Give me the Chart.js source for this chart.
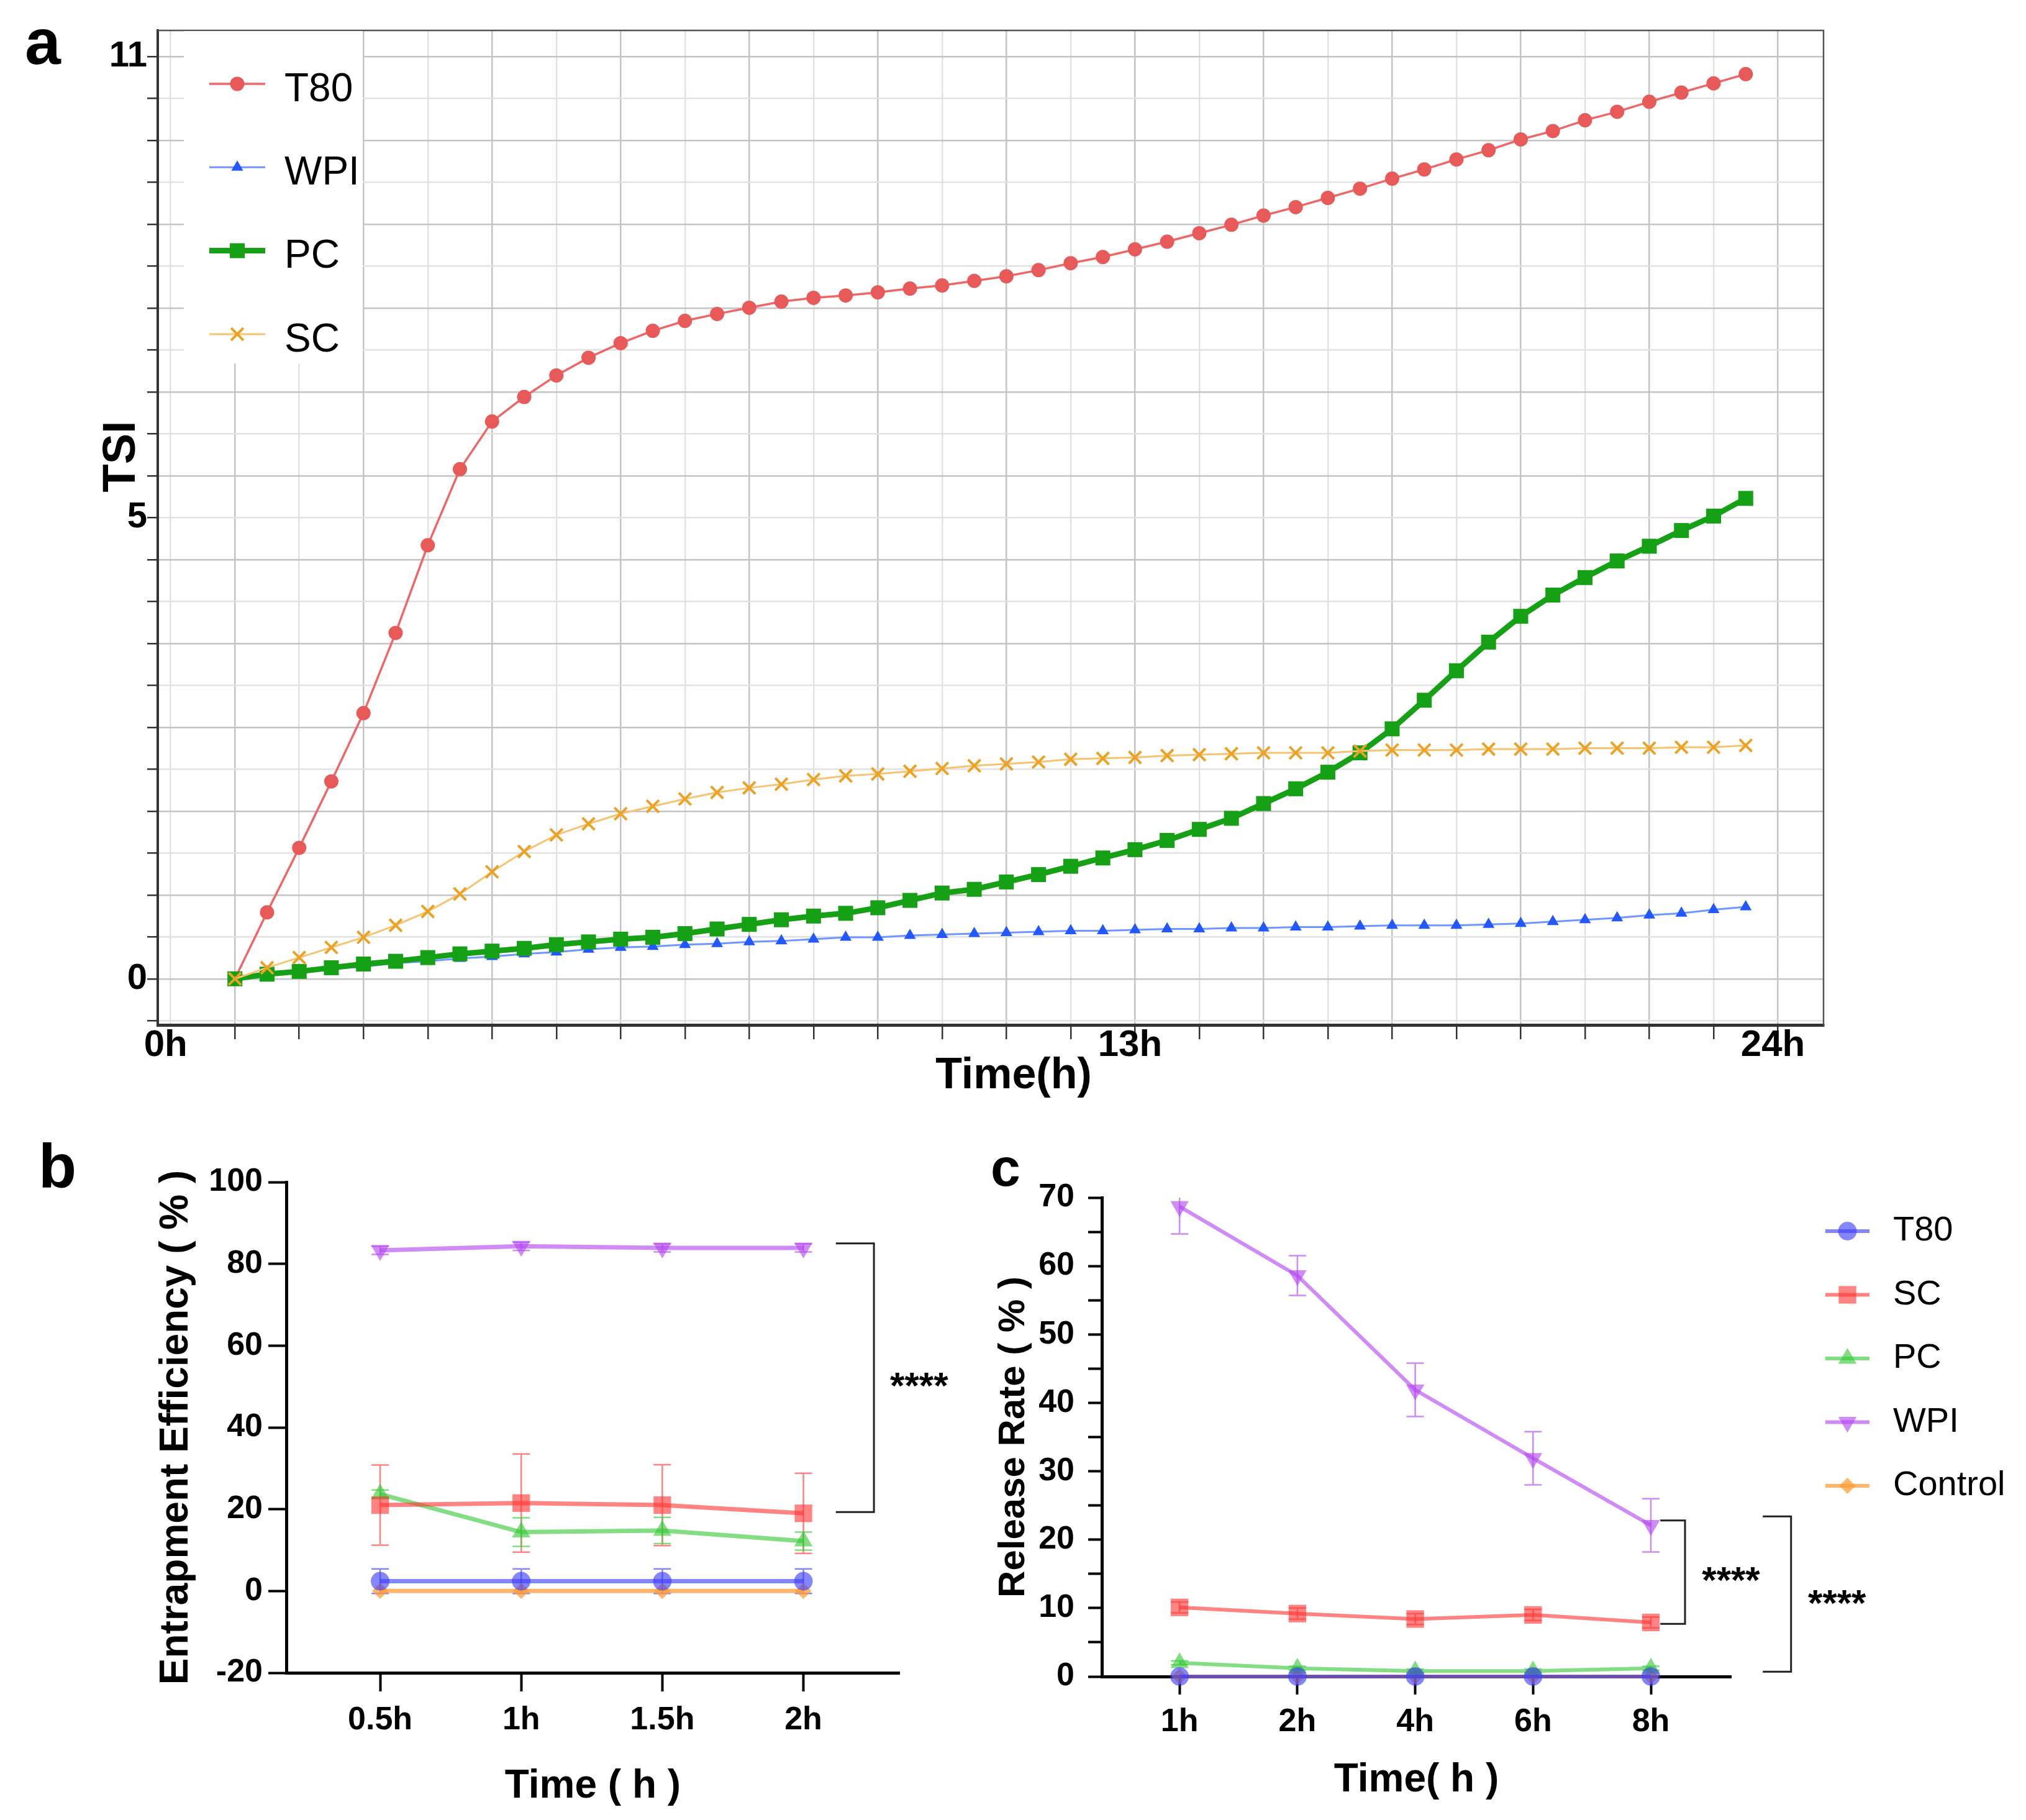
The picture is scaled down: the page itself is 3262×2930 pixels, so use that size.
<!DOCTYPE html>
<html lang="en">
<head>
<meta charset="utf-8">
<title>TSI, entrapment efficiency and release rate</title>
<script src="https://cdn.jsdelivr.net/npm/chart.js@4.4.0/dist/chart.umd.min.js"></script>
<style>
  html, body { margin: 0; padding: 0; background: #fff; }
  body { position: relative; width: 3262px; height: 2930px; overflow: hidden;
         font-family: 'Liberation Sans', Arial, Helvetica, sans-serif; }
  canvas { position: absolute; }
  .tag { position: absolute; font-weight: bold; line-height: 1; color: #000; }
</style>
</head>
<body>
<canvas id="tsiChart" width="3262" height="1800" style="left:0;top:0"></canvas>
<canvas id="entrapChart" width="1560" height="1130" style="left:0;top:1800px"></canvas>
<canvas id="releaseChart" width="1702" height="1130" style="left:1560px;top:1800px"></canvas>
<div class="tag" style="left:40px;top:15px;font-size:104px">a</div>
<div class="tag" style="left:62px;top:1827px;font-size:100px">b</div>
<div class="tag" style="left:1595px;top:1836px;font-size:86px">c</div>
<script>
const SANS = "'Liberation Sans', Arial, Helvetica, sans-serif"
const NARROW = "'Liberation Sans Narrow', 'Arial Narrow', 'Liberation Sans', Arial, sans-serif"

// ---- panel a: TSI over 24 h ----
const tsiHours = [0, 0.5, 1, 1.5, 2, 2.5, 3, 3.5, 4, 4.5, 5, 5.5, 6, 6.5, 7, 7.5, 8, 8.5, 9, 9.5,
  10, 10.5, 11, 11.5, 12, 12.5, 13, 13.5, 14, 14.5, 15, 15.5, 16, 16.5, 17, 17.5, 18, 18.5, 19, 19.5,
  20, 20.5, 21, 21.5, 22, 22.5, 23, 23.5]
const tsiT80 = [0, 0.72, 1.42, 2.14, 2.88, 3.75, 4.70, 5.63, 6.25, 6.57, 6.85, 7.08, 7.27, 7.43, 7.56, 7.65,
  7.73, 7.81, 7.86, 7.89, 7.93, 7.98, 8.02, 8.08, 8.14, 8.22, 8.31, 8.39, 8.49, 8.59, 8.70, 8.81,
  8.93, 9.04, 9.16, 9.28, 9.41, 9.53, 9.66, 9.78, 9.92, 10.03, 10.17, 10.28, 10.41, 10.53, 10.65, 10.77]
const tsiWPI = [0, 0.04, 0.07, 0.11, 0.13, 0.17, 0.19, 0.22, 0.24, 0.27, 0.29, 0.32, 0.34, 0.35, 0.37, 0.38,
  0.40, 0.41, 0.43, 0.45, 0.45, 0.47, 0.48, 0.49, 0.50, 0.51, 0.52, 0.52, 0.53, 0.54, 0.54, 0.55,
  0.55, 0.56, 0.56, 0.57, 0.58, 0.58, 0.58, 0.59, 0.60, 0.62, 0.64, 0.66, 0.69, 0.71, 0.75, 0.78]
const tsiPC = [0, 0.05, 0.08, 0.12, 0.16, 0.19, 0.23, 0.27, 0.30, 0.33, 0.37, 0.40, 0.43, 0.45, 0.49, 0.54,
  0.59, 0.64, 0.68, 0.71, 0.77, 0.85, 0.93, 0.97, 1.05, 1.13, 1.22, 1.31, 1.40, 1.50, 1.62, 1.74,
  1.90, 2.06, 2.24, 2.45, 2.71, 3.02, 3.34, 3.65, 3.93, 4.16, 4.35, 4.53, 4.69, 4.86, 5.02, 5.25]
const tsiSC = [0, 0.12, 0.23, 0.34, 0.45, 0.58, 0.73, 0.92, 1.16, 1.38, 1.56, 1.68, 1.79, 1.87, 1.95, 2.02,
  2.07, 2.11, 2.16, 2.20, 2.22, 2.25, 2.28, 2.31, 2.33, 2.35, 2.38, 2.39, 2.40, 2.42, 2.43, 2.44,
  2.45, 2.45, 2.45, 2.47, 2.48, 2.48, 2.48, 2.49, 2.49, 2.49, 2.50, 2.50, 2.50, 2.51, 2.51, 2.53]
const tsiTickValues = [0, 5, 11]
// the instrument software prints its time labels on these grid lines
const tsiTickHours = [-1, 14, 24]
const tsiTickLabels = ['0h', '13h', '24h']

// ---- panel b: entrapment efficiency ----
const entrapTimes = ['0.5h', '1h', '1.5h', '2h']
const entrapT80 = [2.4, 2.4, 2.4, 2.4]
const entrapT80Sd = [3.0, 3.0, 3.0, 3.0]
const entrapSC = [21.0, 21.5, 21.0, 19.0]
const entrapSCSd = [9.8, 12.0, 9.9, 9.8]
const entrapPC = [23.7, 14.4, 14.8, 12.2]
const entrapPCSd = [1.0, 3.5, 3.2, 2.2]
const entrapWPI = [83.3, 84.3, 83.9, 83.9]
const entrapWPISd = [1.0, 1.0, 1.0, 1.0]
const entrapControl = [0, 0, 0, 0]

// ---- panel c: release rate ----
const releaseTimes = ['1h', '2h', '4h', '6h', '8h']
const releaseT80 = [0, 0, 0, 0, 0]
const releaseSC = [10.1, 9.2, 8.4, 9.0, 7.9]
const releaseSCSd = [0.8, 0.8, 0.8, 0.8, 0.8]
const releasePC = [2.0, 1.2, 0.8, 0.8, 1.2]
const releasePCSd = [0.3, 0.3, 0.3, 0.3, 0.3]
const releaseWPI = [68.7, 58.6, 41.9, 31.9, 22.1]
const releaseWPISd = [4.0, 2.9, 3.9, 3.9, 3.9]
const releaseControl = [0, 0, 0, 0, 0]

Chart.defaults.color = '#000'
Chart.defaults.font.family = SANS

// TSI axis: 0, 5 and 11 sit at equal distances, 11 grid steps each
const toGrid = v => v <= 5 ? v * 11 / 5 : 11 + (v - 5) * 11 / 6
const tsiPoints = vals => tsiHours.map((h, i) => ({ x: h, y: toGrid(vals[i]) }))
const idxPoints = vals => vals.map((v, i) => ({ x: i, y: v }))

const frame = {
  id: 'frame',
  afterDatasetsDraw (chart, args, o) {
    if (!o.color) return
    const { ctx, chartArea: c } = chart
    ctx.save()
    ctx.strokeStyle = o.color
    ctx.lineWidth = o.width
    ctx.beginPath()
    ctx.moveTo(c.left, c.top)
    ctx.lineTo(c.right, c.top)
    ctx.lineTo(c.right, c.bottom)
    ctx.stroke()
    ctx.restore()
  }
}

// axis captions placed where the original software put them
const captions = {
  id: 'captions',
  afterDraw (chart, args, o) {
    if (!o.items) return
    const ctx = chart.ctx
    o.items.forEach(t => {
      ctx.save()
      ctx.translate(t.x, t.y)
      ctx.rotate(t.rotate || 0)
      ctx.font = t.font
      ctx.fillStyle = '#000'
      ctx.textAlign = 'center'
      ctx.textBaseline = 'middle'
      ctx.fillText(t.text, 0, 0)
      ctx.restore()
    })
  }
}

const legendBlock = {
  id: 'legendBlock',
  afterDatasetsDraw (chart, args, o) {
    if (!o.x0) return
    const ctx = chart.ctx
    ctx.save()
    if (o.box) {
      ctx.fillStyle = '#fff'
      ctx.fillRect(o.box[0], o.box[1], o.box[2], o.box[3])
    }
    chart.data.datasets.forEach((ds, i) => {
      const y = o.y0 + i * o.gap
      ctx.strokeStyle = ds.borderColor
      ctx.lineWidth = ds.borderWidth
      ctx.beginPath()
      ctx.moveTo(o.x0, y)
      ctx.lineTo(o.x1, y)
      ctx.stroke()
      ctx.fillStyle = ds.pointBackgroundColor
      ctx.strokeStyle = ds.pointBorderColor
      ctx.lineWidth = ds.pointBorderWidth
      Chart.helpers.drawPoint(ctx, {
        pointStyle: ds.pointStyle,
        radius: ds.pointRadius,
        rotation: ds.pointRotation || 0,
        borderWidth: ds.pointBorderWidth
      }, (o.x0 + o.x1) / 2, y)
      ctx.fillStyle = '#000'
      ctx.font = o.font
      ctx.textAlign = 'left'
      ctx.textBaseline = 'middle'
      ctx.fillText(ds.label, o.textX, y + o.textShift)
    })
    ctx.restore()
  }
}

const errorBars = {
  id: 'errorBars',
  beforeDatasetsDraw (chart, args, o) {
    const { ctx, chartArea: area } = chart
    ctx.save()
    ctx.beginPath()
    ctx.rect(0, area.top, chart.width, chart.height - area.top)
    ctx.clip()
    chart.data.datasets.forEach((ds, di) => {
      if (!ds.errors) return
      const meta = chart.getDatasetMeta(di)
      const yScale = chart.scales[meta.yAxisID]
      ctx.strokeStyle = ds.borderColor
      ctx.lineWidth = o.width
      meta.data.forEach((pt, j) => {
        const e = ds.errors[j]
        if (!e) return
        const v = ds.data[j].y
        const y1 = yScale.getPixelForValue(v + e)
        const y2 = yScale.getPixelForValue(v - e)
        ctx.beginPath()
        ctx.moveTo(pt.x, y1); ctx.lineTo(pt.x, y2)
        ctx.moveTo(pt.x - o.cap, y1); ctx.lineTo(pt.x + o.cap, y1)
        ctx.moveTo(pt.x - o.cap, y2); ctx.lineTo(pt.x + o.cap, y2)
        ctx.stroke()
      })
    })
    ctx.restore()
  }
}

const brackets = {
  id: 'brackets',
  afterDraw (chart, args, o) {
    if (!o.items) return
    const { ctx, scales: { x, y } } = chart
    ctx.save()
    o.items.forEach(b => {
      const x0 = x.getPixelForValue(b.x0)
      const x1 = x.getPixelForValue(b.x1)
      const yt = y.getPixelForValue(b.top)
      const yb = y.getPixelForValue(b.bottom)
      ctx.strokeStyle = '#222'
      ctx.lineWidth = 3
      ctx.beginPath()
      ctx.moveTo(x0, yt); ctx.lineTo(x1, yt); ctx.lineTo(x1, yb); ctx.lineTo(x0, yb)
      ctx.stroke()
      ctx.fillStyle = '#000'
      ctx.font = o.font
      ctx.textAlign = 'center'
      ctx.textBaseline = 'middle'
      ctx.fillText(b.label, x.getPixelForValue(b.textX), y.getPixelForValue(b.textY) + 13)
    })
    ctx.restore()
  }
}

const fixedTicks = values => scale => { scale.ticks = values.map(v => ({ value: v })) }
const range = (a, b, step) => { const r = []; for (let v = a; v <= b + 1e-9; v += step) r.push(v); return r }

// ---------- panel a ----------
new Chart(document.getElementById('tsiChart'), {
  type: 'line',
  data: {
    datasets: [
      { label: 'T80', data: tsiPoints(tsiT80), order: 3, borderColor: '#ee6666', borderWidth: 3.5,
        pointStyle: 'circle', pointRadius: 11.5, pointBackgroundColor: '#e85a5a', pointBorderColor: '#e85a5a', pointBorderWidth: 0 },
      { label: 'WPI', data: tsiPoints(tsiWPI), order: 2, borderColor: '#7096ff', borderWidth: 3,
        pointStyle: 'triangle', pointRadius: 11, pointBackgroundColor: '#2357ff', pointBorderColor: '#2357ff', pointBorderWidth: 0 },
      { label: 'PC', data: tsiPoints(tsiPC), order: 1, borderColor: '#16a016', borderWidth: 9,
        pointStyle: 'rect', pointRadius: 17, pointBackgroundColor: '#16a016', pointBorderColor: '#16a016', pointBorderWidth: 0 },
      { label: 'SC', data: tsiPoints(tsiSC), order: 0, borderColor: '#f6c472', borderWidth: 3,
        pointStyle: 'crossRot', pointRadius: 14, pointBackgroundColor: '#eca225', pointBorderColor: '#eca225', pointBorderWidth: 4 }
    ]
  },
  options: {
    responsive: false,
    animation: false,
    devicePixelRatio: 1,
    layout: { autoPadding: false, padding: { left: 140, right: 326, top: 49, bottom: 0 } },
    elements: { line: { tension: 0 } },
    datasets: { line: { clip: false } },
    plugins: {
      legend: { display: false },
      tooltip: { enabled: false },
      frame: { color: '#555', width: 2.5 },
      legendBlock: { box: [296, 50, 288, 535], x0: 337, x1: 427, textX: 458, y0: 135, gap: 134.3, textShift: 10, font: '64px ' + SANS },
      captions: {
        items: [
          { text: 'TSI', x: 197, y: 735, rotate: -Math.PI / 2, font: 'bold 74px ' + SANS },
          { text: 'Time(h)', x: 1632, y: 1733, font: 'bold 70px ' + SANS }
        ]
      }
    },
    scales: {
      x: {
        type: 'linear', min: -1.2, max: 24.71,
        afterBuildTicks: fixedTicks(range(-1, 24, 1)),
        afterFit: s => { s.height = 150 },
        ticks: {
          autoSkip: false, maxRotation: 0, minRotation: 0, padding: -20, labelOffset: -8,
          font: { family: SANS, size: 60, weight: 'bold', lineHeight: 1 },
          callback: v => { const i = tsiTickHours.indexOf(v); return i < 0 ? '' : tsiTickLabels[i] }
        },
        grid: {
          color: c => (c.tick && c.tick.value % 2 === 0) ? '#c4c4c4' : '#e2e2e2',
          lineWidth: 2.5, tickLength: 23, tickWidth: 2.5,
          tickColor: c => (c.tick && c.tick.value < 0) ? 'rgba(0,0,0,0)' : '#333'
        },
        border: { color: '#333', width: 5 },
        title: { display: false }
      },
      y: {
        type: 'linear', min: -1.1, max: 22.62,
        afterBuildTicks: fixedTicks(range(-1, 22, 1)),
        afterFit: s => { s.width = 114 },
        ticks: {
          autoSkip: false, padding: 0,
          font: { family: SANS, size: 58, weight: 'bold', lineHeight: 1 },
          callback: v => { const i = tsiTickValues.findIndex(t => Math.abs(toGrid(t) - v) < 1e-6); return i < 0 ? '' : String(tsiTickValues[i]) }
        },
        grid: {
          color: c => (c.tick && c.tick.value % 2 === 0) ? '#c4c4c4' : '#e2e2e2',
          lineWidth: 2.5, tickLength: 17, tickWidth: 2.5, tickColor: '#333'
        },
        border: { color: '#333', width: 4 },
        title: { display: false }
      }
    }
  },
  plugins: [frame, legendBlock, captions]
})

// shared styles for panels b and c
const groupStyle = {
  T80: { color: 'rgba(60,60,250,0.62)', pointStyle: 'circle', pointRadius: 15, pointRotation: 0 },
  SC: { color: 'rgba(255,55,55,0.62)', pointStyle: 'rect', pointRadius: 20, pointRotation: 0 },
  PC: { color: 'rgba(55,200,55,0.62)', pointStyle: 'triangle', pointRadius: 17, pointRotation: 0 },
  WPI: { color: 'rgba(178,70,240,0.62)', pointStyle: 'triangle', pointRadius: 17, pointRotation: 180 },
  Control: { color: 'rgba(255,155,50,0.72)', pointStyle: 'rectRot', pointRadius: 13, pointRotation: 0 }
}
const groupSet = (label, vals, errs, width) => {
  const s = groupStyle[label]
  return {
    label,
    data: idxPoints(vals),
    errors: errs,
    borderColor: s.color,
    borderWidth: width,
    pointStyle: s.pointStyle,
    pointRadius: s.pointRadius,
    pointRotation: s.pointRotation,
    pointBackgroundColor: s.color,
    pointBorderColor: s.color,
    pointBorderWidth: 0
  }
}
const tickFont = { family: NARROW, size: 52, weight: 'bold', lineHeight: 1 }

// ---------- panel b ----------
new Chart(document.getElementById('entrapChart'), {
  type: 'line',
  data: {
    datasets: [
      groupSet('T80', entrapT80, entrapT80Sd, 7),
      groupSet('SC', entrapSC, entrapSCSd, 7),
      groupSet('PC', entrapPC, entrapPCSd, 7),
      groupSet('WPI', entrapWPI, entrapWPISd, 7),
      groupSet('Control', entrapControl, null, 7)
    ]
  },
  options: {
    responsive: false,
    animation: false,
    devicePixelRatio: 1,
    layout: { autoPadding: false, padding: { left: 230, right: 112, top: 103, bottom: 0 } },
    elements: { line: { tension: 0 } },
    datasets: { line: { clip: false } },
    plugins: {
      legend: { display: false },
      tooltip: { enabled: false },
      errorBars: { width: 2.5, cap: 14 },
      brackets: {
        font: 'bold 60px ' + SANS,
        items: [{ x0: 3.23, x1: 3.5, top: 85, bottom: 19.3, textX: 3.82, textY: 51.7, label: '****' }]
      }
    },
    scales: {
      x: {
        type: 'linear', min: -0.665, max: 3.68,
        afterBuildTicks: fixedTicks(entrapTimes.map((t, i) => i)),
        afterFit: s => { s.height = 237 },
        ticks: { autoSkip: false, maxRotation: 0, minRotation: 0, padding: 21, font: tickFont, callback: v => entrapTimes[v] ?? '' },
        grid: { drawOnChartArea: false, tickLength: 30, tickWidth: 4, tickColor: '#000' },
        border: { color: '#000', width: 5 },
        title: { display: true, text: 'Time ( h )', color: '#000', font: { family: NARROW, size: 64, weight: 'bold' }, padding: { top: 0, bottom: 15.6 } }
      },
      y: {
        type: 'linear', min: -20, max: 100,
        afterBuildTicks: fixedTicks(range(-20, 100, 20)),
        afterFit: s => { s.width = 231 },
        ticks: { autoSkip: false, padding: 9, font: tickFont },
        grid: { drawOnChartArea: false, tickLength: 29, tickWidth: 4, tickColor: '#000' },
        border: { color: '#000', width: 5 },
        title: { display: true, text: 'Entrapment Efficiency ( % )', color: '#000', font: { family: SANS, size: 64, weight: 'bold' }, padding: { top: 15.6, bottom: 0 } }
      }
    }
  },
  plugins: [errorBars, brackets]
})

// ---------- panel c ----------
new Chart(document.getElementById('releaseChart'), {
  type: 'line',
  data: {
    datasets: [
      groupSet('T80', releaseT80, null, 6),
      groupSet('SC', releaseSC, releaseSCSd, 6),
      groupSet('PC', releasePC, releasePCSd, 6),
      groupSet('WPI', releaseWPI, releaseWPISd, 6),
      groupSet('Control', releaseControl, null, 6)
    ]
  },
  options: {
    responsive: false,
    animation: false,
    devicePixelRatio: 1,
    layout: { autoPadding: false, padding: { left: 20, right: 475, top: 128, bottom: 0 } },
    elements: { line: { tension: 0 } },
    datasets: { line: { clip: false } },
    plugins: {
      legend: { display: false },
      tooltip: { enabled: false },
      errorBars: { width: 2.5, cap: 14 },
      brackets: {
        font: 'bold 60px ' + SANS,
        items: [
          { x0: 4.08, x1: 4.29, top: 22.8, bottom: 7.7, textX: 4.68, textY: 14.9, label: '****' },
          { x0: 4.95, x1: 5.19, top: 23.4, bottom: 0.7, textX: 5.58, textY: 11.6, label: '****' }
        ]
      },
      legendBlock: { x0: 1379, x1: 1450, textX: 1488, y0: 182, gap: 102.5, textShift: 0, font: '56px ' + SANS }
    },
    scales: {
      x: {
        type: 'linear', min: -0.66, max: 4.68,
        afterBuildTicks: fixedTicks(releaseTimes.map((t, i) => i)),
        afterFit: s => { s.height = 231 },
        ticks: { autoSkip: false, maxRotation: 0, minRotation: 0, padding: 19, font: tickFont, callback: v => releaseTimes[v] ?? '' },
        grid: { drawOnChartArea: false, tickLength: 29, tickWidth: 4, tickColor: '#000' },
        border: { color: '#000', width: 5 },
        title: { display: true, text: 'Time( h )', color: '#000', font: { family: NARROW, size: 64, weight: 'bold' }, padding: { top: 0, bottom: 25.6 } }
      },
      y: {
        type: 'linear', min: 0, max: 70,
        afterBuildTicks: fixedTicks(range(0, 70, 5)),
        afterFit: s => { s.width = 194 },
        ticks: { autoSkip: false, padding: 22, font: tickFont, callback: v => v % 10 === 0 ? String(v) : '' },
        grid: { drawOnChartArea: false, tickLength: 22, tickWidth: 4, tickColor: '#000' },
        border: { color: '#000', width: 5 },
        title: { display: true, text: 'Release Rate ( % )', color: '#000', font: { family: SANS, size: 60, weight: 'bold' }, padding: { top: 16, bottom: 0 } }
      }
    }
  },
  plugins: [errorBars, brackets, legendBlock]
})
</script>
</body>
</html>
